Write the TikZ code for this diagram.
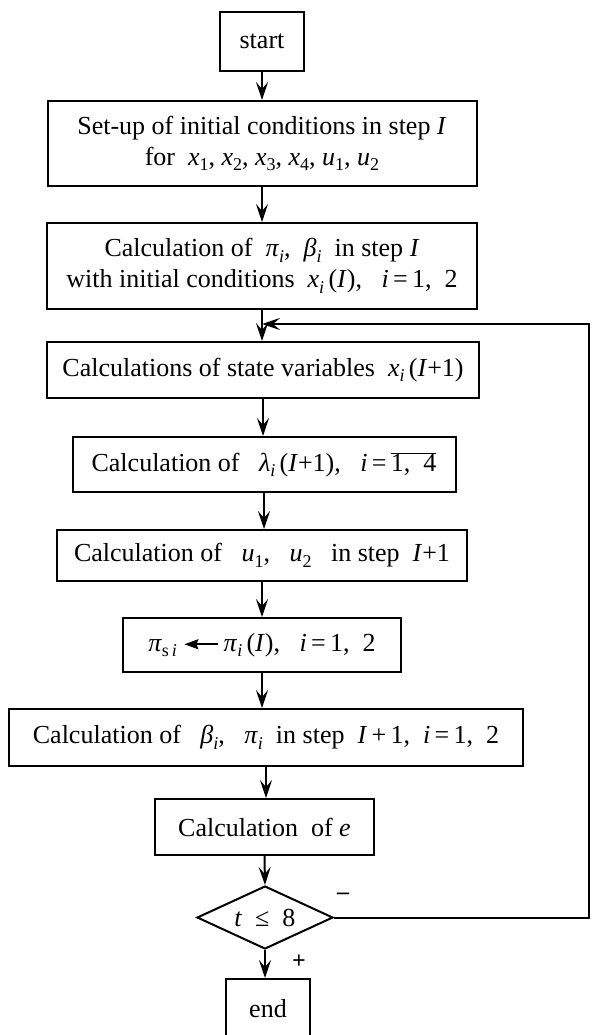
\documentclass[tikz,border=0pt]{standalone}
\usepackage{fontspec}
\setmainfont{Liberation Serif}
\usetikzlibrary{shapes.geometric,arrows.meta}
\newcommand{\lo}[1]{\raisebox{-0.2em}{\fontsize{18}{18}\selectfont #1}}
\newcommand{\vv}[1]{\textit{#1}}
\tikzset{
  box/.style={draw, line width=2pt, rectangle, align=center, inner sep=0pt,
    font=\fontsize{26}{31}\selectfont},
  dec/.style={draw, line width=2pt, diamond, inner sep=0pt, aspect=2.16,
    minimum width=136pt, minimum height=63pt, font=\fontsize{26}{31}\selectfont},
  arr/.style={line width=2pt, -{Stealth[length=18pt,width=12pt,inset=7pt]}},
  lab/.style={font=\fontsize{24}{24}\selectfont\bfseries}
}
\begin{document}
\begin{tikzpicture}[x=1pt,y=-1pt]
\useasboundingbox (0,0) rectangle (592,1035);
\node[box, minimum width=84pt, minimum height=59pt] (start) at (262,41.5) {start};
\node[box, minimum width=429pt, minimum height=85pt] (b1) at (262,143.5)
  {Set-up of initial conditions in step \vv{I}\\for~~\vv{x}\lo{1}, \vv{x}\lo{2}, \vv{x}\lo{3}, \vv{x}\lo{4}, \vv{u}\lo{1}, \vv{u}\lo{2}};
\node[box, minimum width=430pt, minimum height=86pt] (b2) at (262,266)
  {Calculation of~~\vv{π}\lo{\vv{i}},~~\vv{β}\lo{\vv{i}}~~in step \vv{I}\\with initial conditions~~\vv{x}\lo{\vv{i}}\,(\vv{I}),~~~\vv{i}\,=\,1,~~2};
\node[box, minimum width=432pt, minimum height=56pt] (b3) at (263,370)
  {Calculations of state variables~~\vv{x}\lo{\vv{i}}\,(\vv{I}+1)};
\node[box, minimum width=383pt, minimum height=55pt] (b4) at (264,464.5)
  {Calculation of~~~\vv{λ}\lo{\vv{i}}\,(\vv{I}+1),~~~\vv{i}\,=\,$\overline{\hbox{1,~~4}}$};
\node[box, minimum width=410pt, minimum height=51pt] (b5) at (262,555.5)
  {Calculation of~~~\vv{u}\lo{1},~~~\vv{u}\lo{2}~~~in step~~\vv{I}+1};
\node[box, minimum width=278pt, minimum height=54pt] (b6) at (262,645)
  {\vv{π}\lo{s\,\vv{i}}~\tikz[baseline=-7pt]\draw[line width=1.8pt,-{Stealth[length=14pt,width=10pt,inset=2pt]}] (34pt,0)--(0,0);\,\vv{π}\lo{\vv{i}}\,(\vv{I}),~~~\vv{i}\,=\,1,~~2};
\node[box, minimum width=514pt, minimum height=57pt] (b7) at (266,737.5)
  {Calculation of~~~\vv{β}\lo{\vv{i}},~~~\vv{π}\lo{\vv{i}}~~in step~~\vv{I}\,+\,1,~~\vv{i}\,=\,1,~~2};
\node[box, minimum width=219pt, minimum height=56pt] (b8) at (264.5,827)
  {Calculation~~of~\vv{e}};
\node[dec] (dia) at (265,917.5) {\vv{t}~~≤~~8};
\node[box, minimum width=84pt, minimum height=60pt] (end) at (268,1009) {end};
\node[lab] (minus) at (343,896) {–};
\node[lab] (plus) at (299,962) {+};
\coordinate (rc) at (589,324);
\draw[arr] (start.south) -- (start.south |- b1.north);
\draw[arr] (b1.south) -- (b1.south |- b2.north);
\draw[arr] (b2.south) -- (b2.south |- b3.north);
\draw[arr] (b3.south) -- (b3.south |- b4.north);
\draw[arr] (b4.south) -- (b4.south |- b5.north);
\draw[arr] (b5.south) -- (b5.south |- b6.north);
\draw[arr] (b6.south) -- (b6.south |- b7.north);
\draw[arr] (b7.south) -- (b7.south |- b8.north);
\draw[arr] (b8.south) -- (dia.north);
\draw[arr] (dia.south) -- (dia.south |- end.north);
\draw[arr] (dia.east) -| (rc) -- (b2.south |- rc);
\end{tikzpicture}
\end{document}
